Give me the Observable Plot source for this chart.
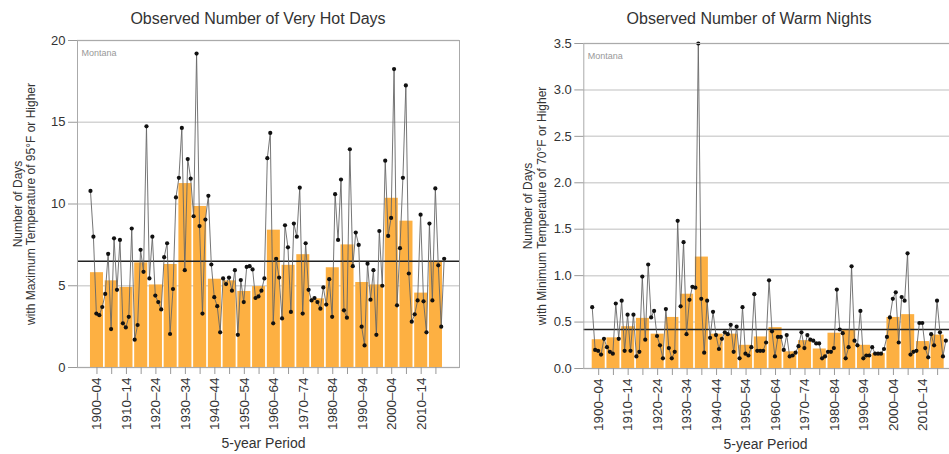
<!DOCTYPE html>
<html><head><meta charset="utf-8">
<script src="https://cdn.jsdelivr.net/npm/d3@7"></script>
<script src="https://cdn.jsdelivr.net/npm/@observablehq/plot@0.6"></script>
<style>
html,body{margin:0;padding:0;width:949px;height:454px;overflow:hidden;background:#fff;font-family:"Liberation Sans",Arial,sans-serif;}
#wrap{position:relative;width:949px;height:454px;overflow:hidden;}
.title{position:absolute;top:11px;font-size:16px;color:#333;white-space:nowrap;transform:translateX(-50%);line-height:1;}
.panel{position:absolute;top:0;height:454px;}
.panel svg{max-width:none !important;}
</style></head><body>
<div id="wrap">
 <div class="panel" id="p1" style="left:0px;width:470px"></div>
 <div class="panel" id="p2" style="left:480px;width:490px"></div>
 <div class="title" style="left:258px">Observed Number of Very Hot Days</div>
 <div class="title" style="left:749px">Observed Number of Warm Nights</div>
</div>
<script>
// ---- data ----
const firstYear = 1900, lastYear = 2020;
const periodStarts = [1900,1905,1910,1915,1920,1925,1930,1935,1940,1945,1950,1955,1960,1965,1970,1975,1980,1985,1990,1995,2000,2005,2010,2015];
const periodLabels = ["1900–04","1905–09","1910–14","1915–19","1920–24","1925–29","1930–34","1935–39","1940–44","1945–49","1950–54","1955–59","1960–64","1965–69","1970–74","1975–79","1980–84","1985–89","1990–94","1995–99","2000–04","2005–09","2010–14","2015–19"];

// Very hot days (annual, 1900–2020)
const hotDays = [
 10.8, 8.0, 3.3, 3.2, 3.7,   4.5, 6.95, 2.35, 7.9, 4.75,
 7.8, 2.7, 2.45, 3.1, 8.5,   1.7, 2.6, 7.2, 5.85, 14.75,
 5.45, 8.0, 4.4, 4.0, 3.55,  6.75, 7.6, 2.05, 4.8, 10.4,
 11.6, 14.65, 5.95, 12.75, 11.55,  9.25, 19.2, 8.65, 3.3, 9.05,
 10.5, 6.3, 4.3, 3.75, 2.15, 5.45, 5.1, 5.5, 4.7, 5.95,
 2.0, 5.35, 4.0, 6.15, 6.2,  6.0, 4.25, 4.35, 4.7, 5.45,
 12.8, 14.35, 2.7, 6.65, 5.5, 3.0, 8.7, 7.35, 3.4, 8.8,
 8.0, 11.0, 3.3, 7.6, 4.75,  4.1, 4.25, 4.0, 3.6, 4.9,
 3.85, 5.4, 3.1, 10.6, 7.8,  11.5, 3.5, 3.05, 13.35, 6.2,
 8.25, 7.5, 2.5, 1.35, 6.35, 4.15, 5.95, 2.0, 8.35, 5.0,
 12.65, 8.05, 9.15, 18.25, 3.8,  7.3, 11.6, 17.25, 5.75, 2.8,
 3.25, 4.1, 9.35, 4.05, 2.15, 8.8, 4.1, 10.95, 6.25, 2.5,
 6.65
];
const hotDaysPeriod = [5.8,5.3,4.9,6.4,5.05,6.3,11.25,9.85,5.4,5.3,4.65,4.95,8.4,6.25,6.9,4.2,6.1,7.5,5.2,5.05,10.35,8.95,4.55,6.5];
const hotDaysMean = 6.5;

// Warm nights (annual, 1900–2020)
const warmNights = [
 0.66,0.20,0.19,0.15,0.32, 0.23,0.18,0.16,0.70,0.32,
 0.73,0.19,0.58,0.19,0.58, 0.13,0.18,0.99,0.31,1.12,
 0.55,0.62,0.35,0.25,0.11, 0.64,0.22,0.11,0.18,1.59,
 0.67,1.36,0.37,0.74,0.88, 0.87,3.50,0.75,0.17,0.73,
 0.33,0.61,0.36,0.21,0.32, 0.39,0.37,0.47,0.18,0.45,
 0.11,0.66,0.16,0.14,0.23, 0.80,0.19,0.19,0.19,0.28,
 0.95,0.40,0.13,0.34,0.34, 0.20,0.36,0.13,0.14,0.17,
 0.24,0.39,0.22,0.36,0.31, 0.30,0.27,0.27,0.11,0.13,
 0.18,0.18,0.22,0.85,0.42, 0.38,0.11,0.23,1.10,0.30,
 0.25,0.62,0.11,0.14,0.14, 0.23,0.16,0.16,0.16,0.21,
 0.34,0.55,0.75,0.82,0.28, 0.77,0.73,1.24,0.15,0.18,
 0.19,0.49,0.49,0.22,0.12, 0.37,0.25,0.73,0.39,0.13,
 0.30
];
const warmNightsPeriod = [0.31,0.33,0.45,0.54,0.37,0.55,0.80,1.20,0.37,0.37,0.25,0.34,0.44,0.18,0.30,0.21,0.38,0.41,0.25,0.16,0.55,0.58,0.29,0.36];
const warmNightsMean = 0.42;

const hotTicks = [0,5,10,15,20];
const nightTicks = [0,0.5,1.0,1.5,2.0,2.5,3.0,3.5];

// ---- drawing ----
const years = d3.range(firstYear, lastYear + 1);
const FONT = "Liberation Sans, Arial, sans-serif";

function panel(o) {
  const annual = years.map((yr, i) => ({year: yr, value: o.values[i]}));
  const periods = periodStarts.map((s, i) => ({start: s, end: s + 5, value: o.bars[i]}));
  const tickPos = periodStarts.map(s => s + 2.2);
  const fmtX = d => {
    const i = Math.round((d - 1902.2) / 5);
    return i % 2 === 0 ? periodLabels[i] : "";
  };
  return Plot.plot({
    width: o.width, height: 454,
    marginLeft: o.marginLeft, marginRight: o.marginRight,
    marginTop: o.marginTop, marginBottom: o.marginBottom,
    style: {fontFamily: FONT, fontSize: "13px", color: "#333", background: "transparent", overflow: "visible", maxWidth: "none"},
    x: {domain: o.xDomain, axis: null},
    y: {domain: o.yDomain, axis: null},
    marks: [
      Plot.gridY(o.yTicks, {stroke: "#d4d4d4", strokeOpacity: 1, strokeWidth: 1.5}),
      Plot.rectY(periods, {x1: "start", x2: "end", y: "value", fill: "#fdb042", insetRight: 1.7}),
      Plot.ruleY([o.mean], {stroke: "#222", strokeWidth: 1.3}),
      Plot.line(annual, {x: "year", y: "value", stroke: "#666", strokeWidth: 0.9}),
      Plot.dot(annual, {x: "year", y: "value", r: 2.1, fill: "#111", stroke: "none"}),
      Plot.frame({stroke: "#aaa"}),
      Plot.axisY(o.yTicks, {tickSize: 9, tickPadding: 3, tickFormat: o.yFmt, fontSize: 13, stroke: "#999", label: null}),
      Plot.axisX(tickPos, {tickSize: 7, tickPadding: 3, tickRotate: -90, tickFormat: fmtX, fontSize: 13.5, stroke: "#999", label: null}),
      Plot.text(["5-year Period"], {frameAnchor: "bottom", dx: o.xLabelDx, dy: 80, fontSize: 14, fill: "#333"}),
      Plot.text([o.yTitle[0]], {frameAnchor: "left", dx: o.titleDx[0], rotate: -90, textAnchor: "middle", fontSize: 12, fill: "#333"}),
      Plot.text([o.yTitle[1]], {frameAnchor: "left", dx: o.titleDx[1], rotate: -90, textAnchor: "middle", fontSize: 12, fill: "#333"}),
      Plot.text(["Montana"], {frameAnchor: "top-left", dx: 4, dy: 9, fontSize: 9, fill: "#999", textAnchor: "start"})
    ]
  });
}

document.getElementById("p1").append(panel({
  values: hotDays, bars: hotDaysPeriod, mean: hotDaysMean,
  width: 470, marginLeft: 77, marginRight: 11, marginTop: 40, marginBottom: 87,
  xDomain: [1895.6, 2025.2], yDomain: [0, 20], yTicks: hotTicks, yFmt: d3.format("d"),
  yTitle: ["Number of Days", "with Maximum Temperature of 95°F or Higher"],
  titleDx: [-59, -46.5], xLabelDx: -5
}));

document.getElementById("p2").append(panel({
  values: warmNights, bars: warmNightsPeriod, mean: warmNightsMean,
  width: 490, marginLeft: 103.3, marginRight: 9.3, marginTop: 43, marginBottom: 86,
  xDomain: [1897.15, 2025.2], yDomain: [0, 3.5], yTicks: nightTicks, yFmt: d3.format(".1f"),
  yTitle: ["Number of Days", "with Minimum Temperature of 70°F or Higher"],
  titleDx: [-55.5, -42], xLabelDx: -7
}));
</script>
</body></html>
